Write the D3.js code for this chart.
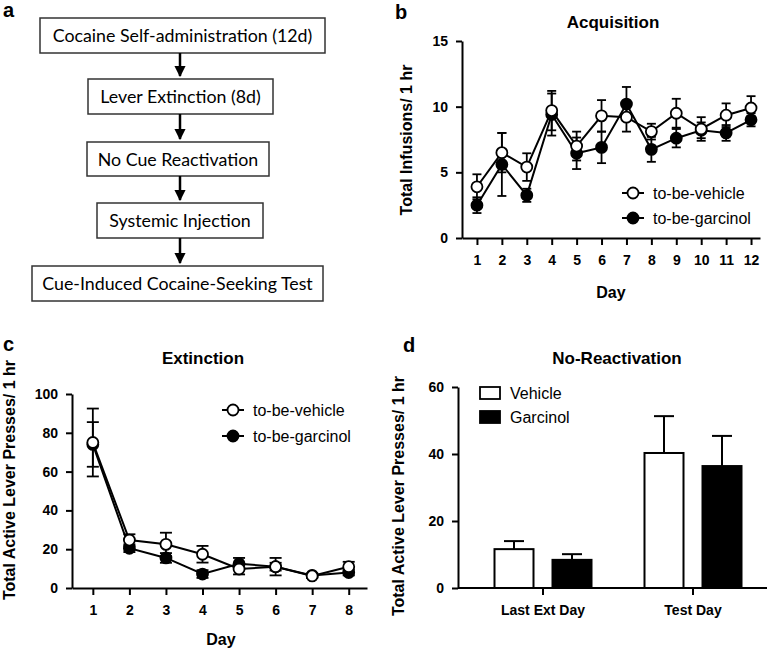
<!DOCTYPE html>
<html><head><meta charset="utf-8">
<script src="https://cdn.jsdelivr.net/npm/d3@7"></script>
<style>body{margin:0;background:#fff}svg{display:block}</style>
</head><body>
<svg id="c" width="770" height="652"></svg>
<script>
// ---------- data ----------
const flowSteps = ["Cocaine Self-administration (12d)", "Lever Extinction (8d)", "No Cue Reactivation", "Systemic Injection", "Cue-Induced Cocaine-Seeking Test"];

const acqDays = [1,2,3,4,5,6,7,8,9,10,11,12];
const acqVehicle    = [3.9, 6.5, 5.4, 9.7, 7.0, 9.3, 9.2, 8.1, 9.5, 8.3, 9.35, 9.9];
const acqVehicleSem = [0.95,1.5, 1.05,1.5, 1.1, 1.2, 1.1, 0.6, 1.1, 0.9, 0.9, 0.9];
const acqGarcinol    = [2.5, 5.6, 3.25,9.4, 6.45,6.9, 10.2,6.75,7.6, 8.2, 8.0, 9.0];
const acqGarcinolSem = [0.6, 2.4, 0.5, 1.6, 1.2, 1.2, 1.3, 0.95,0.7, 0.6, 0.6, 0.5];
const acqYTicks = [0,5,10,15];

const extDays = [1,2,3,4,5,6,7,8];
const extVehicle    = [75, 24.7, 22.5, 17.4, 9.8, 11, 6.2, 11];
const extVehicleSem = [17.5, 3, 6, 4.3, 2.8, 4.5, 1, 2.5];
const extGarcinol    = [74, 20.5, 15.5, 7.2, 12.5, 11, 6.5, 8];
const extGarcinolSem = [11.5, 2, 2.5, 2, 3, 2, 1, 1.5];
const extYTicks = [0,20,40,60,80,100];

const barGroups = ["Last Ext Day", "Test Day"];
const barSeries = ["Vehicle", "Garcinol"];
const barVehicle    = [11.6, 40.3];
const barVehicleSem = [2.4, 11.0];
const barGarcinol    = [8.4, 36.4];
const barGarcinolSem = [1.7, 9.0];
const barYTicks = [0,20,40,60];

// ---------- setup ----------
const svg = d3.select("#c");
const ARIAL = "'Liberation Sans', Arial, sans-serif";
const FLOW = "Lato, 'Open Sans', sans-serif";

function panelLetter(t, x, y){
  svg.append("text").attr("x", x).attr("y", y).text(t)
    .attr("font-family", ARIAL).attr("font-weight", "bold").attr("font-size", 20);
}
function styleAxis(g){
  g.selectAll("path.domain").attr("stroke", "#000").attr("stroke-width", 2);
  g.selectAll(".tick line").attr("stroke", "#000").attr("stroke-width", 2);
  g.selectAll(".tick text").attr("font-family", ARIAL).attr("font-weight", "bold").attr("font-size", 14).attr("fill", "#000");
}
function title(t, x, y){
  svg.append("text").attr("x", x).attr("y", y).attr("text-anchor", "middle").text(t)
    .attr("font-family", ARIAL).attr("font-weight", "bold").attr("font-size", 17);
}
function axisTitle(t, x, y, rot){
  const el = svg.append("text").attr("text-anchor", "middle").text(t)
    .attr("font-family", ARIAL).attr("font-weight", "bold").attr("font-size", 16);
  if (rot) el.attr("transform", `translate(${x},${y}) rotate(-90)`);
  else el.attr("x", x).attr("y", y);
}

// ---------- panel a ----------
panelLetter("a", 3, 17);
const flowBoxes = [
  {x0:40, x1:325, y0:18, y1:53},
  {x0:88, x1:273, y0:79, y1:114},
  {x0:87, x1:269, y0:142, y1:176},
  {x0:97, x1:263, y0:203, y1:238},
  {x0:32, x1:323, y0:266, y1:301}
];
const defs = svg.append("defs");
defs.append("marker").attr("id", "arr").attr("viewBox", "0 0 10 10").attr("refX", 9).attr("refY", 5)
  .attr("markerWidth", 4.5).attr("markerHeight", 4.5).attr("orient", "auto")
  .append("path").attr("d", "M0,0 L10,5 L0,10 z").attr("fill", "#000");
flowSteps.forEach((s, i) => {
  const b = flowBoxes[i];
  svg.append("rect").attr("x", b.x0).attr("y", b.y0).attr("width", b.x1 - b.x0).attr("height", b.y1 - b.y0)
    .attr("fill", "#fff").attr("stroke", "#333").attr("stroke-width", 1.5);
  svg.append("text").attr("x", (b.x0 + b.x1) / 2).attr("y", (b.y0 + b.y1) / 2 + 6.5)
    .attr("text-anchor", "middle").attr("font-family", FLOW).attr("font-size", 17.8).text(s);
  if (i < flowSteps.length - 1) {
    const nb = flowBoxes[i + 1];
    svg.append("line").attr("x1", 180).attr("x2", 180).attr("y1", b.y1).attr("y2", nb.y0 - 3)
      .attr("stroke", "#000").attr("stroke-width", 2.5).attr("marker-end", "url(#arr)");
  }
});

// ---------- line-panel helper ----------
function linePanel(o){
  const x = o.x, y = o.y;
  const gx = svg.append("g").attr("transform", `translate(0,${o.y0px})`)
    .call(d3.axisBottom(x).tickValues(o.days).tickFormat(d3.format("d")).tickSize(7).tickPadding(10).tickSizeOuter(0));
  styleAxis(gx);
  const gy = svg.append("g").attr("transform", `translate(${o.x0px},0)`)
    .call(d3.axisLeft(y).tickValues(o.yTicks).tickSize(6).tickPadding(8).tickSizeOuter(0));
  styleAxis(gy);

  const series = [
    {v: o.gar, s: o.garSem, fill: "#000"},
    {v: o.veh, s: o.vehSem, fill: "#fff"}
  ];
  const line = d3.line().x((d, i) => x(o.days[i])).y(d => y(d));
  series.forEach(se => {
    svg.append("path").datum(se.v).attr("d", line).attr("fill", "none").attr("stroke", "#000").attr("stroke-width", 2);
  });
  series.forEach(se => {
    const g = svg.append("g");
    se.v.forEach((v, i) => {
      const cx = x(o.days[i]), lo = y(v - se.s[i]), hi = y(v + se.s[i]);
      g.append("line").attr("x1", cx).attr("x2", cx).attr("y1", lo).attr("y2", hi).attr("stroke", "#000").attr("stroke-width", 1.8);
      [lo, hi].forEach(yy => g.append("line").attr("x1", cx - o.cap).attr("x2", cx + o.cap).attr("y1", yy).attr("y2", yy).attr("stroke", "#000").attr("stroke-width", 1.8));
    });
  });
  series.forEach(se => {
    svg.append("g").selectAll("circle").data(se.v).join("circle")
      .attr("cx", (d, i) => x(o.days[i])).attr("cy", d => y(d)).attr("r", 5.5)
      .attr("fill", se.fill).attr("stroke", "#000").attr("stroke-width", 1.8);
  });
  // legend
  const lg = [{t: "to-be-vehicle", fill: "#fff"}, {t: "to-be-garcinol", fill: "#000"}];
  lg.forEach((l, i) => {
    const ly = o.legY + i * o.legDy;
    svg.append("line").attr("x1", o.legX - 11).attr("x2", o.legX + 11).attr("y1", ly).attr("y2", ly).attr("stroke", "#000").attr("stroke-width", 2);
    svg.append("circle").attr("cx", o.legX).attr("cy", ly).attr("r", 5.5).attr("fill", l.fill).attr("stroke", "#000").attr("stroke-width", 1.8);
    svg.append("text").attr("x", o.legX + 20).attr("y", ly + 5.5).text(l.t)
      .attr("font-family", ARIAL).attr("font-size", 16);
  });
}

// ---------- panel b ----------
panelLetter("b", 395, 19);
title("Acquisition", 613, 28);
linePanel({
  days: acqDays, veh: acqVehicle, vehSem: acqVehicleSem, gar: acqGarcinol, garSem: acqGarcinolSem, yTicks: acqYTicks,
  x: d3.scaleLinear().domain([0.4, 12.36]).range([462, 760]),
  y: d3.scaleLinear().domain([0, 15]).range([238, 41]),
  x0px: 462, y0px: 238, cap: 4.5,
  legX: 633, legY: 193, legDy: 25
});
axisTitle("Day", 611, 298, false);
axisTitle("Total Infusions/ 1 hr", 412, 140, true);

// ---------- panel c ----------
panelLetter("c", 3, 351);
title("Extinction", 203, 364);
linePanel({
  days: extDays, veh: extVehicle, vehSem: extVehicleSem, gar: extGarcinol, garSem: extGarcinolSem, yTicks: extYTicks,
  x: d3.scaleLinear().domain([0.43, 8.5]).range([72, 367]),
  y: d3.scaleLinear().domain([0, 100]).range([588, 394]),
  x0px: 72, y0px: 588, cap: 6,
  legX: 233, legY: 410, legDy: 26
});
axisTitle("Day", 221, 645, false);
axisTitle("Total Active Lever Presses/ 1 hr", 15, 480, true);

// ---------- panel d ----------
panelLetter("d", 403, 352);
title("No-Reactivation", 617, 364);
const xd = d3.scaleBand().domain(barGroups).range([468, 768]);
const xdInner = d3.scalePoint().domain(barSeries).range([-29, 29]);
const yd = d3.scaleLinear().domain([0, 60]).range([588, 387]);
const barW = 39;
const barData = [];
barGroups.forEach((g, i) => {
  barData.push({g, s: "Vehicle", v: barVehicle[i], e: barVehicleSem[i], fill: "#fff"});
  barData.push({g, s: "Garcinol", v: barGarcinol[i], e: barGarcinolSem[i], fill: "#000"});
});
barData.forEach(d => {
  const cx = xd(d.g) + xd.bandwidth() / 2 + xdInner(d.s);
  svg.append("line").attr("x1", cx).attr("x2", cx).attr("y1", yd(d.v)).attr("y2", yd(d.v + d.e)).attr("stroke", "#000").attr("stroke-width", 2);
  svg.append("line").attr("x1", cx - 10).attr("x2", cx + 10).attr("y1", yd(d.v + d.e)).attr("y2", yd(d.v + d.e)).attr("stroke", "#000").attr("stroke-width", 2);
  svg.append("rect").attr("x", cx - barW / 2).attr("y", yd(d.v)).attr("width", barW).attr("height", yd(0) - yd(d.v))
    .attr("fill", d.fill).attr("stroke", "#000").attr("stroke-width", 2);
});
const gxd = svg.append("g").attr("transform", "translate(0,588)")
  .call(d3.axisBottom(xd).tickSize(7).tickPadding(10).tickSizeOuter(0));
gxd.select("path.domain").attr("d", "M458,0H767");
styleAxis(gxd);
const gyd = svg.append("g").attr("transform", "translate(458,0)")
  .call(d3.axisLeft(yd).tickValues(barYTicks).tickSize(6).tickPadding(8).tickSizeOuter(0));
styleAxis(gyd);
axisTitle("Total Active Lever Presses/ 1 hr", 404, 496, true);
// legend d
[{t: "Vehicle", fill: "#fff", y: 393}, {t: "Garcinol", fill: "#000", y: 417}].forEach(l => {
  svg.append("rect").attr("x", 480).attr("y", l.y - 6).attr("width", 20).attr("height", 12)
    .attr("fill", l.fill).attr("stroke", "#000").attr("stroke-width", 1.8);
  svg.append("text").attr("x", 510).attr("y", l.y + 6).text(l.t).attr("font-family", ARIAL).attr("font-size", 16);
});
</script>
</body></html>
